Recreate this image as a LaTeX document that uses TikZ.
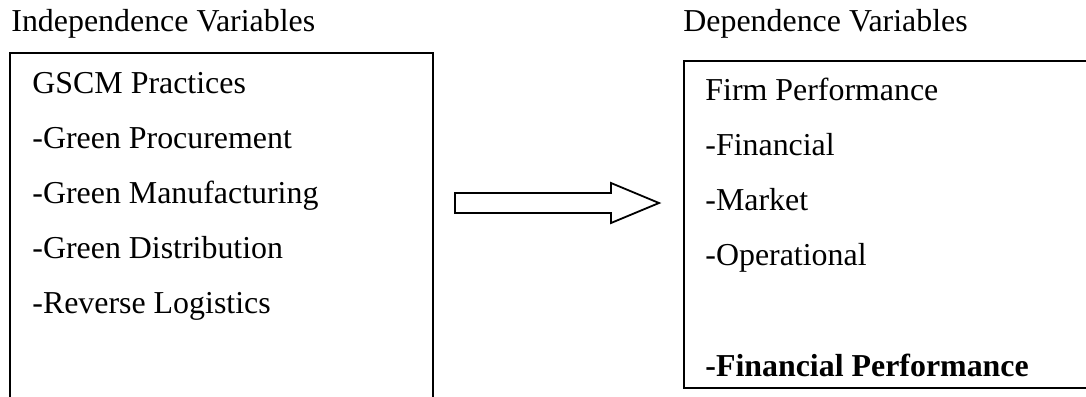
\documentclass[tikz,border=0pt]{standalone}
\usepackage{fontspec}
\setmainfont{Liberation Serif}
\begin{document}
\begin{tikzpicture}[x=0.5pt,y=-0.5pt,
  lbl/.style={anchor=base west,inner sep=0pt,font=\fontsize{15.95pt}{18pt}\selectfont},
  frame/.style={draw=black,line width=0.9pt},
  blockarrow/.style={draw=black,line width=0.9pt,fill=white,line join=miter}]
\useasboundingbox (0,0) rectangle (1086,396);
\clip (0,0) rectangle (1086,396);
% headings
\node[lbl] (hl) at (11,32) {Independence Variables};
\node[lbl] (hr) at (683,32) {Dependence Variables};
% left box (bottom runs off the page)
\draw[frame] (10,400) -- (10,53) -- (433,53) -- (433,400);
\node[lbl] (l1) at (32,93) {GSCM Practices};
\node[lbl] (l2) at (32,148) {-Green Procurement};
\node[lbl] (l3) at (32,203) {-Green Manufacturing};
\node[lbl] (l4) at (32,258) {-Green Distribution};
\node[lbl] (l5) at (32,313) {-Reverse Logistics};
% right box (right side runs off the page)
\draw[frame] (1095,61) -- (684,61) -- (684,388) -- (1095,388);
\node[lbl] (r1) at (705,100) {Firm Performance};
\node[lbl] (r2) at (705,155) {-Financial};
\node[lbl] (r3) at (705,210) {-Market};
\node[lbl] (r4) at (705,265) {-Operational};
\node[lbl] (r5) at (705,376) {\bfseries -Financial Performance};
% block arrow
\draw[blockarrow] (455,193) -- (611,193) -- (611,183) -- (659,203) -- (611,223) -- (611,213) -- (455,213) -- cycle;
\end{tikzpicture}
\end{document}
